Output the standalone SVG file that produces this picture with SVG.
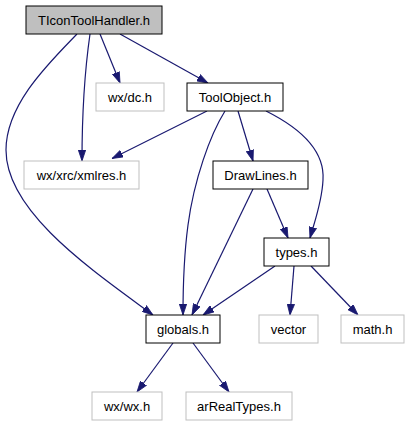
<svg xmlns="http://www.w3.org/2000/svg" width="408" height="427" viewBox="0 0 408 427">
<style>
.n rect{fill:#fff;stroke:#000;stroke-width:1}
.g rect{fill:#fff;stroke:#bfbfbf;stroke-width:1}
.r rect{fill:#bfbfbf;stroke:#000;stroke-width:1}
text{font-family:"Liberation Sans",Arial,sans-serif;font-size:13px;text-anchor:middle;fill:#000}
.e path{fill:none;stroke:#191970;stroke-width:1.2}
</style>
<defs>
<marker id="a" viewBox="0 0 11 8" markerWidth="11" markerHeight="8" refX="11" refY="4" orient="auto" markerUnits="userSpaceOnUse">
<path d="M0,0.3 L11,4 L0,7.7 z" fill="#191970" stroke="#191970" stroke-width="0.8"/>
</marker>
</defs>
<g class="e" id="edges" marker-end="url(#a)">
<path marker-end="url(#a)" d="M77,34 C50,62 6,104 6,150 C6,212 92,270 153,315"/>
<path marker-end="url(#a)" d="M90,34 C86,62 82,110 82,161"/>
<path marker-end="url(#a)" d="M100,34 L120,83"/>
<path marker-end="url(#a)" d="M120,34 L208,83"/>
<path marker-end="url(#a)" d="M207,111 L112,158.5"/>
<path marker-end="url(#a)" d="M225,111 C210,135 194,180 188,225 C184,255 183,283 183,315"/>
<path marker-end="url(#a)" d="M238,111 L253,161"/>
<path marker-end="url(#a)" d="M266,111 C300,128 325,150 323,180 C322,202 315,220 310,238"/>
<path marker-end="url(#a)" d="M267,189 L288,238"/>
<path marker-end="url(#a)" d="M253,189 L192,315"/>
<path marker-end="url(#a)" d="M275,266 L203,315"/>
<path marker-end="url(#a)" d="M294,266 L290,315"/>
<path marker-end="url(#a)" d="M311,266 L358,315"/>
<path marker-end="url(#a)" d="M173,343 L137,392"/>
<path marker-end="url(#a)" d="M193,343 L229,392"/>
</g>
<g id="TIconToolHandler" class="r"><rect x="26" y="6" width="136" height="28"/><text x="94" y="24.5">TIconToolHandler.h</text></g>
<g id="wxdc" class="g"><rect x="96" y="83" width="68" height="28"/><text x="130" y="101.5">wx/dc.h</text></g>
<g id="ToolObject" class="n"><rect x="187" y="83" width="96" height="28"/><text x="235" y="101.5">ToolObject.h</text></g>
<g id="xmlres" class="g"><rect x="24" y="161" width="115" height="28"/><text x="81.5" y="179.5">wx/xrc/xmlres.h</text></g>
<g id="DrawLines" class="n"><rect x="213" y="161" width="95" height="28"/><text x="260.5" y="179.5">DrawLines.h</text></g>
<g id="types" class="n"><rect x="264" y="238" width="65" height="28"/><text x="296.5" y="256.5">types.h</text></g>
<g id="globals" class="n"><rect x="146" y="315" width="74" height="28"/><text x="183" y="333.5">globals.h</text></g>
<g id="vector" class="g"><rect x="259" y="315" width="59" height="28"/><text x="288.5" y="333.5">vector</text></g>
<g id="math" class="g"><rect x="341" y="315" width="63" height="28"/><text x="372.5" y="333.5">math.h</text></g>
<g id="wxwx" class="g"><rect x="92" y="392" width="70" height="28"/><text x="127" y="410.5">wx/wx.h</text></g>
<g id="arRealTypes" class="g"><rect x="186" y="392" width="106" height="28"/><text x="239" y="410.5">arRealTypes.h</text></g>
</svg>
